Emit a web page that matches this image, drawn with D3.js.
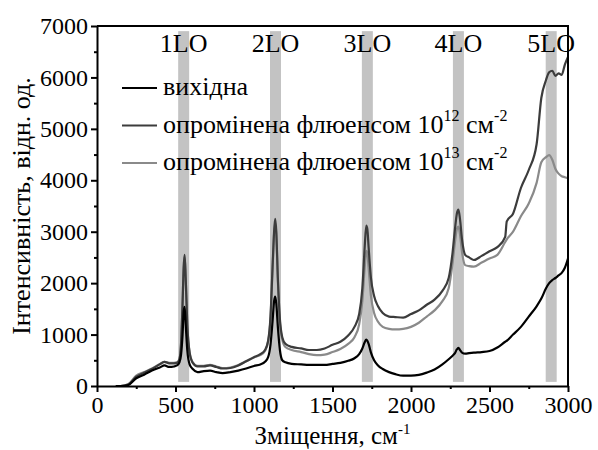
<!DOCTYPE html>
<html>
<head>
<meta charset="utf-8">
<script src="https://cdn.jsdelivr.net/npm/d3@7"></script>
<style>
  body { margin: 0; background: #fff; }
</style>
</head>
<body>
<div id="chart"></div>
<script>
// wavenumber grid, cm^-1
const shift = [120, 150, 200, 250, 300, 350, 400, 430, 460, 490, 510, 525, 535, 545, 552, 558, 565, 575, 590, 610,
  640, 680, 720, 760, 800, 850, 900, 950, 1000, 1040, 1070, 1090, 1105, 1118, 1128, 1135, 1142, 1152, 1165, 1180,
  1200, 1240, 1300, 1350, 1400, 1450, 1500, 1550, 1600, 1640, 1670, 1690, 1705, 1715, 1722, 1730, 1745, 1765, 1790, 1820,
  1860, 1900, 1950, 2000, 2050, 2100, 2150, 2200, 2240, 2265, 2280, 2292, 2302, 2312, 2325, 2345, 2370, 2400, 2450, 2500,
  2550, 2600, 2610, 2650, 2700, 2750, 2800, 2830, 2860, 2880, 2900, 2920, 2940, 2960, 2980, 3000];

const pristine = [0, 0, 20, 150, 220, 300, 360, 400, 370, 380, 400, 460, 600, 1000, 1450, 1540, 1200, 700, 420, 330,
  270, 290, 300, 270, 250, 270, 300, 340, 390, 420, 470, 560, 800, 1250, 1650, 1740, 1600, 1150, 700, 500,
  460, 430, 420, 410, 410, 410, 430, 450, 490, 540, 620, 730, 850, 900, 880, 820, 650, 500, 400, 330,
  270, 230, 200, 200, 215, 260, 320, 420, 520, 590, 640, 710, 740, 700, 650, 630, 640, 650, 660, 680,
  750, 860, 880, 1000, 1150, 1350, 1550, 1700, 1900, 2000, 2060, 2100, 2150, 2200, 2300, 2480];

const fluence12 = [0, 0, 30, 180, 260, 330, 420, 470, 440, 440, 450, 520, 800, 1600, 2300, 2550, 2100, 1200, 650, 450,
  380, 380, 400, 370, 340, 350, 400, 480, 560, 620, 700, 880, 1350, 2300, 3000, 3250, 3000, 2100, 1300, 950,
  820, 760, 730, 700, 700, 730, 800, 860, 980, 1150, 1400, 1900, 2700, 3120, 3050, 2700, 2100, 1750, 1550, 1420,
  1350, 1340, 1330, 1400, 1470, 1580, 1680, 1850, 2100, 2600, 3050, 3350, 3430, 3250, 2850, 2550, 2500, 2450, 2530, 2620,
  2700, 2900, 3200, 3350, 3850, 4200, 4700, 5600, 5950, 6100, 6130, 6030, 6080, 6050, 6250, 6400];

const fluence13 = [0, 0, 40, 200, 270, 340, 430, 470, 450, 450, 460, 530, 800, 1600, 2300, 2520, 2100, 1200, 650, 460,
  390, 390, 410, 380, 350, 360, 410, 480, 560, 600, 680, 860, 1300, 2250, 2950, 3180, 2950, 2050, 1250, 900,
  760, 700, 660, 620, 600, 610, 660, 720, 820, 950, 1200, 1650, 2300, 2630, 2580, 2300, 1750, 1420, 1250, 1150,
  1110, 1100, 1110, 1150, 1230, 1350, 1470, 1650, 1900, 2400, 2800, 3050, 3100, 2950, 2600, 2350, 2330, 2320, 2400, 2480,
  2550, 2800, 2850, 3000, 3300, 3550, 3950, 4350, 4450, 4490, 4400, 4220, 4130, 4080, 4060, 4040];

const seriesNames = ["вихідна", "опромінена флюенсом 10", "опромінена флюенсом 10"];
const seriesPowers = ["", "12", "13"];
const seriesColors = ["#000000", "#3c3c3c", "#8a8a8a"];

const modeLabels = ["1LO", "2LO", "3LO", "4LO", "5LO"];
const modeCenters = [552, 1137, 1722, 2302, 2893];
const modeHalfWidth = 35;

const xTicks = [0, 500, 1000, 1500, 2000, 2500, 3000];
const yTicks = [0, 1000, 2000, 3000, 4000, 5000, 6000, 7000];

const serif = "Liberation Serif";
const width = 598, height = 450;
const margin = {top: 26, right: 30, bottom: 64, left: 97};

const x = d3.scaleLinear().domain([0, 3000]).range([margin.left, width - margin.right]);
const y = d3.scaleLinear().domain([0, 7000]).range([height - margin.bottom, margin.top]);

const svg = d3.select("#chart").append("svg")
    .attr("width", width)
    .attr("height", height);

// grey bands at LO overtones
svg.append("g")
  .selectAll("rect")
  .data(modeCenters)
  .join("rect")
    .attr("x", d => x(d - modeHalfWidth))
    .attr("width", d => x(d + modeHalfWidth) - x(d - modeHalfWidth))
    .attr("y", y(6900))
    .attr("height", y(80) - y(6900))
    .attr("fill", "#c3c3c3");

svg.append("g")
  .selectAll("text")
  .data(modeLabels)
  .join("text")
    .attr("x", (d, i) => x(modeCenters[i]))
    .attr("y", 52)
    .attr("text-anchor", "middle")
    .attr("font-family", serif)
    .attr("font-size", 26)
    .text(d => d);

// spectra
const line = d3.line().curve(d3.curveMonotoneX);
const allSeries = [fluence13, fluence12, pristine];
const allColors = [seriesColors[2], seriesColors[1], seriesColors[0]];

svg.append("g")
  .selectAll("path")
  .data(allSeries)
  .join("path")
    .attr("fill", "none")
    .attr("stroke", (d, i) => allColors[i])
    .attr("stroke-width", 2.2)
    .attr("stroke-linejoin", "round")
    .attr("d", d => line(d.map((v, i) => [x(shift[i]), y(v)])));

// axes
svg.append("g")
    .attr("transform", `translate(0,${y(0)})`)
    .call(d3.axisBottom(x).tickValues(xTicks).tickFormat(d3.format("d")).tickSize(6).tickSizeOuter(0).tickPadding(4));
svg.append("g")
    .attr("transform", `translate(0,${y(0)})`)
    .call(d3.axisBottom(x).tickValues(d3.range(250, 3000, 500)).tickSize(3).tickFormat(""))
    .call(g => g.select(".domain").remove());

svg.append("g")
    .attr("transform", `translate(${x(0)},0)`)
    .call(d3.axisLeft(y).tickValues(yTicks).tickFormat(d3.format("d")).tickSize(6).tickSizeOuter(0).tickPadding(3));
svg.append("g")
    .attr("transform", `translate(${x(0)},0)`)
    .call(d3.axisLeft(y).tickValues(d3.range(500, 7000, 1000)).tickSize(3).tickFormat(""))
    .call(g => g.select(".domain").remove());

svg.selectAll(".tick text")
    .attr("font-family", serif)
    .attr("font-size", 24)
    .attr("fill", "#000");
svg.selectAll(".domain, .tick line").attr("stroke", "#000").attr("stroke-width", 2);

// frame top and right
svg.append("path")
    .attr("d", `M${x(0)},${y(7000)}H${x(3000)}V${y(0)}`)
    .attr("fill", "none")
    .attr("stroke", "#000")
    .attr("stroke-width", 2);

// axis titles
const xTitle = svg.append("text")
    .attr("x", (x(0) + x(3000)) / 2)
    .attr("y", 444)
    .attr("text-anchor", "middle")
    .attr("font-family", serif)
    .attr("font-size", 25);
xTitle.append("tspan").text("Зміщення, см");
xTitle.append("tspan").attr("font-size", 15).attr("dy", -10).text("-1");

svg.append("text")
    .attr("transform", `translate(30,${(y(0) + y(7000)) / 2}) rotate(-90)`)
    .attr("text-anchor", "middle")
    .attr("font-family", serif)
    .attr("font-size", 26)
    .text("Інтенсивність, відн. од.");

// legend
const legend = svg.append("g");
seriesNames.forEach((name, i) => {
  const ly = 88 + i * 37.5;
  legend.append("line")
      .attr("x1", 122).attr("x2", 157)
      .attr("y1", ly).attr("y2", ly)
      .attr("stroke", seriesColors[i])
      .attr("stroke-width", 2.2);
  const t = legend.append("text")
      .attr("x", 163)
      .attr("y", ly + 7)
      .attr("font-family", serif)
      .attr("font-size", 26);
  t.append("tspan").text(name);
  if (seriesPowers[i]) {
    t.append("tspan").attr("font-size", 16).attr("dy", -12).text(seriesPowers[i]);
    t.append("tspan").attr("dy", 12).text(" см");
    t.append("tspan").attr("font-size", 16).attr("dy", -12).text("-2");
  }
});
</script>
</body>
</html>
